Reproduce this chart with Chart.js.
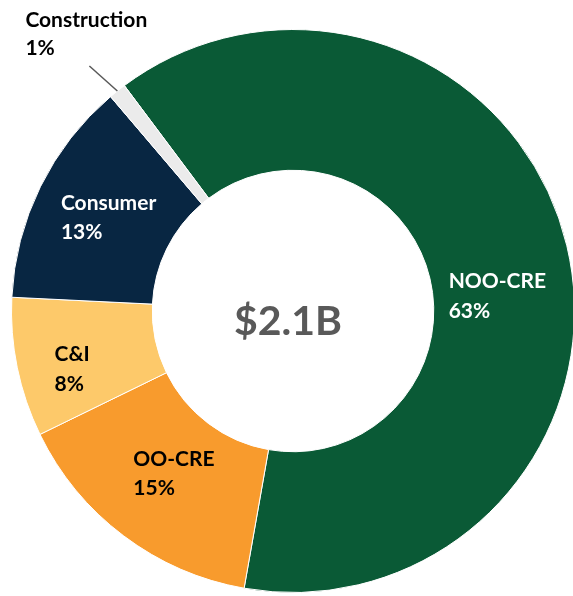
<!DOCTYPE html>
<html>
<head>
<meta charset="utf-8">
<script src="https://cdn.jsdelivr.net/npm/chart.js@4/dist/chart.umd.min.js"></script>
<style>
  html, body { margin: 0; padding: 0; background: #ffffff; overflow: hidden; width: 573px; height: 596px; }
  #wrap { position: absolute; left: 0; top: 0; width: 586px; height: 622px; }
</style>
</head>
<body>
<div id="wrap"><canvas id="c"></canvas></div>
<script>
const categories = ["NOO-CRE", "OO-CRE", "C&I", "Consumer", "Construction"];
const shares = [63, 15, 8, 13, 1];
const shareLabels = ["63%", "15%", "8%", "13%", "1%"];
const sliceColors = ["#0a5a36", "#f89b2d", "#fdc96a", "#082642", "#ebebeb"];
const labelColors = ["#ffffff", "#000000", "#000000", "#ffffff", "#000000"];
const centerText = "$2.1B";

// per-label nudges (style), relative to slice centroid
const labelNudge = [[-1, 33], [8, -7], [-14, 15], [5, -1], [0, 0]];
const outsideLabel = [false, false, false, false, true];

const FONT = "Lato, 'Open Sans', sans-serif";

const labelPlugin = {
  id: 'sliceLabels',
  afterDatasetsDraw(chart) {
    const ctx = chart.ctx;
    const meta = chart.getDatasetMeta(0);
    ctx.save();
    ctx.font = "bold 21px " + FONT;
    ctx.textBaseline = 'alphabetic';
    ctx.textAlign = 'left';
    const lineGap = 29.5;
    meta.data.forEach((arc, i) => {
      const p = arc.getProps(['x', 'y', 'startAngle', 'endAngle', 'innerRadius', 'outerRadius'], true);
      const mid = (p.startAngle + p.endAngle) / 2;
      ctx.fillStyle = labelColors[i];
      const l1 = categories[i], l2 = shareLabels[i];
      const w = Math.max(ctx.measureText(l1).width, ctx.measureText(l2).width);
      if (!outsideLabel[i]) {
        const r = (p.innerRadius + p.outerRadius) / 2;
        const cx = p.x + Math.cos(mid) * r + labelNudge[i][0];
        const cy = p.y + Math.sin(mid) * r + labelNudge[i][1];
        const left = cx - w / 2;
        ctx.fillText(l1, left, cy - 7);
        ctx.fillText(l2, left, cy - 7 + lineGap);
      } else {
        const x0 = p.x + Math.cos(mid) * p.outerRadius;
        const y0 = p.y + Math.sin(mid) * p.outerRadius;
        const x1 = x0 - 28;
        const y1 = y0 - 25;
        ctx.strokeStyle = '#595959';
        ctx.lineWidth = 1.5;
        ctx.beginPath();
        ctx.moveTo(x0, y0);
        ctx.lineTo(x1, y1);
        ctx.stroke();
        const left = x1 - 64;
        ctx.fillText(l1, left, y1 - 39);
        ctx.fillText(l2, left, y1 - 39 + 28);
      }
    });
    // center total
    const a = meta.data[0];
    ctx.font = "bold 41px " + FONT;
    ctx.textAlign = 'center';
    ctx.fillStyle = '#595959';
    ctx.fillText(centerText, a.x - 5, a.y + 24);
    ctx.restore();
  }
};

new Chart(document.getElementById('c'), {
  type: 'doughnut',
  data: {
    labels: categories,
    datasets: [{
      data: shares,
      backgroundColor: sliceColors,
      borderColor: '#ffffff',
      borderWidth: 1
    }]
  },
  options: {
    responsive: true,
    maintainAspectRatio: false,
    devicePixelRatio: 1,
    animation: false,
    cutout: '50%',
    rotation: -36.8,
    layout: { padding: { top: 29, bottom: 29, left: 11, right: 11 } },
    plugins: {
      legend: { display: false },
      tooltip: { enabled: false },
      title: { display: false }
    }
  },
  plugins: [labelPlugin]
});
</script>
</body>
</html>
